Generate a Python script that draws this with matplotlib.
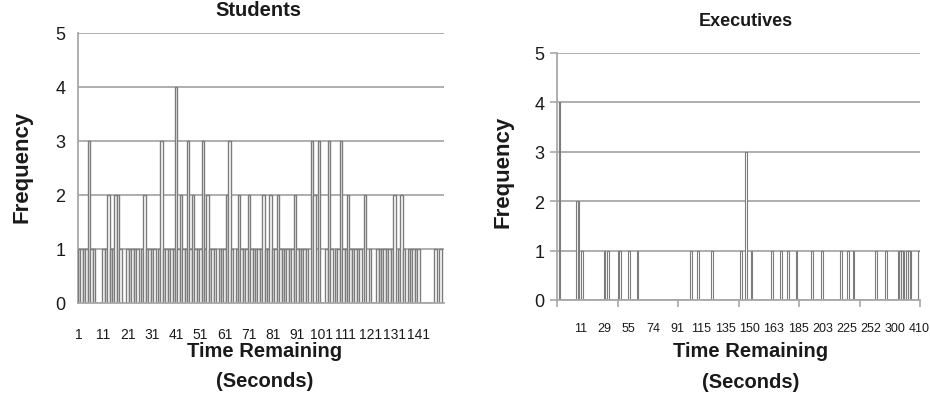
import matplotlib
matplotlib.use("Agg")
import matplotlib.pyplot as plt
from matplotlib.ticker import FixedLocator

plt.rcParams['font.family'] = ['Liberation Sans', 'DejaVu Sans']

# ---------------- data ----------------
# Students: frequency for each second of time remaining (1..151)
student_seconds = list(range(1, 152))
student_counts = [
    1, 1, 1, 1, 3, 1, 1, 0, 0, 0,
    1, 1, 2, 1, 1, 2, 2, 1, 0, 0,
    1, 1, 1, 1, 1, 0, 1, 2, 1, 1,
    1, 1, 0, 1, 3, 1, 1, 1, 1, 1,
    4, 1, 2, 1, 1, 3, 1, 2, 1, 1,
    1, 3, 1, 2, 1, 1, 1, 0, 1, 1,
    1, 2, 3, 1, 0, 1, 2, 1, 1, 1,
    2, 1, 1, 1, 1, 1, 2, 1, 1, 2,
    1, 1, 2, 1, 1, 1, 1, 1, 1, 2,
    1, 1, 1, 1, 1, 0, 3, 2, 0, 3,
    0, 0, 1, 3, 1, 0, 1, 1, 3, 1,
    1, 2, 1, 1, 1, 1, 1, 0, 2, 0,
    1, 0, 0, 1, 1, 1, 1, 1, 1, 1,
    2, 0, 1, 2, 1, 0, 1, 1, 1, 1,
    1, 0, 0, 0, 0, 0, 0, 1, 0, 1, 0,
]
student_tick_values = [1, 11, 21, 31, 41, 51, 61, 71, 81, 91, 101, 111, 121, 131, 141]
student_tick_labels = [str(v) for v in student_tick_values]

# Executives: category axis with 210 categories; non-zero categories and counts
exec_n_categories = 210
exec_bins = [1, 11, 12, 14, 27, 29, 35, 36, 41, 46, 77, 81, 89, 106, 109, 112,
             124, 129, 133, 138, 147, 153, 164, 168, 171, 184, 190,
             197, 198, 199, 200, 202, 203, 204, 209]
exec_counts = [4, 2, 2, 1, 1, 1, 1, 1, 1, 1, 1, 1, 1, 1, 3, 1,
               1, 1, 1, 1, 1, 1, 1, 1, 1, 1, 1,
               1, 1, 1, 1, 1, 1, 1, 1]
exec_tick_labels = ['11', '29', '55', '74', '91', '115', '135', '150', '163',
                    '185', '203', '225', '252', '300', '410']

# ---------------- style ----------------
W, H = 930, 414
EDGE = '#7c7c7c'
GRID = '#a8a8a8'
TXT = '#1a1a1a'
narrow = ['Liberation Sans Narrow', 'Liberation Sans', 'DejaVu Sans']


def px_axes(fig, left, top, right, bottom):
    return fig.add_axes([left / W, 1 - bottom / H, (right - left) / W, (bottom - top) / H])


fig = plt.figure(figsize=(W / 100, H / 100), dpi=100)

# ---------------- Students ----------------
ax1 = px_axes(fig, 78, 34, 444, 304)
ax1.bar(student_seconds, student_counts, width=1.0, color='white',
        edgecolor=EDGE, linewidth=1.0, zorder=3)
ax1.set_xlim(0.5, len(student_seconds) + 0.5)
ax1.set_ylim(0, 5)
ax1.set_yticks(range(6))
ax1.yaxis.grid(True, color=GRID, linewidth=1.3, zorder=0)
ax1.set_axisbelow(True)
for s in ['top', 'right']:
    ax1.spines[s].set_visible(False)
for s in ['left', 'bottom']:
    ax1.spines[s].set_color(GRID)
    ax1.spines[s].set_linewidth(1.3)
ax1.spines['bottom'].set_zorder(4)
ax1.set_xticks(student_tick_values)
ax1.set_xticklabels(student_tick_labels, family=narrow, fontsize=10, color=TXT)
ax1.tick_params(axis='x', length=0, pad=17)
ax1.xaxis.set_minor_locator(FixedLocator([25.5, 50.5, 75.5, 100.5, 125.5, 150.5]))
ax1.tick_params(axis='x', which='minor', direction='in', length=5, width=1.2, color='#555555')
ax1.tick_params(axis='y', length=0, pad=9, labelsize=13, labelcolor=TXT)

fig.text(258 / W, 1 - 11 / H, 'Students', ha='center', va='center',
         fontsize=14.5, fontweight='bold', color=TXT)
fig.text(22.5 / W, 1 - 166.5 / H, 'Frequency', ha='center', va='center',
         rotation=90, fontsize=16, fontweight='bold', color=TXT)
fig.text(265 / W, 1 - 352 / H, 'Time Remaining', ha='center', va='center',
         fontsize=14.5, fontweight='bold', color=TXT)
fig.text(265 / W, 1 - 382 / H, '(Seconds)', ha='center', va='center',
         fontsize=14.5, fontweight='bold', color=TXT)

# ---------------- Executives ----------------
exec_full = [0] * exec_n_categories
for b, c in zip(exec_bins, exec_counts):
    exec_full[b] = c
exec_x = [i + 0.5 for i in range(exec_n_categories)]

ax2 = px_axes(fig, 557, 54, 920, 301)
ax2.bar(exec_x, exec_full, width=1.0, color='white', edgecolor=EDGE,
        linewidth=0.8, zorder=3)
ax2.set_xlim(0, exec_n_categories)
ax2.set_ylim(0, 5)
ax2.set_yticks(range(6))
ax2.yaxis.grid(True, color=GRID, linewidth=1.3, zorder=0)
ax2.set_axisbelow(True)
for s in ['top', 'right']:
    ax2.spines[s].set_visible(False)
for s in ['left', 'bottom']:
    ax2.spines[s].set_color(GRID)
    ax2.spines[s].set_linewidth(1.3)
ax2.spines['bottom'].set_zorder(4)
step = exec_n_categories // len(exec_tick_labels)
ax2.set_xticks([0, 35, 70, 105, 140, 175, 210])
ax2.set_xticklabels([])
ax2.tick_params(axis='x', which='major', direction='out', length=5, width=1.2, color=GRID)
ax2.xaxis.set_minor_locator(FixedLocator([step * (i + 1) - 0.5 for i in range(len(exec_tick_labels))]))
ax2.set_xticklabels(exec_tick_labels, minor=True, family=narrow, fontsize=9, color=TXT)
ax2.tick_params(axis='x', which='minor', length=0, pad=16)
ax2.tick_params(axis='y', direction='out', length=5, width=1.2, color=GRID,
                pad=4, labelsize=13, labelcolor=TXT)

fig.text(746 / W, 1 - 22 / H, 'Executives', ha='center', va='center',
         fontsize=13, fontweight='bold', color=TXT)
fig.text(503 / W, 1 - 172 / H, 'Frequency', ha='center', va='center',
         rotation=90, fontsize=16, fontweight='bold', color=TXT)
fig.text(751 / W, 1 - 352 / H, 'Time Remaining', ha='center', va='center',
         fontsize=14.5, fontweight='bold', color=TXT)
fig.text(751 / W, 1 - 383 / H, '(Seconds)', ha='center', va='center',
         fontsize=14.5, fontweight='bold', color=TXT)

fig.savefig('out.png', dpi=100)
